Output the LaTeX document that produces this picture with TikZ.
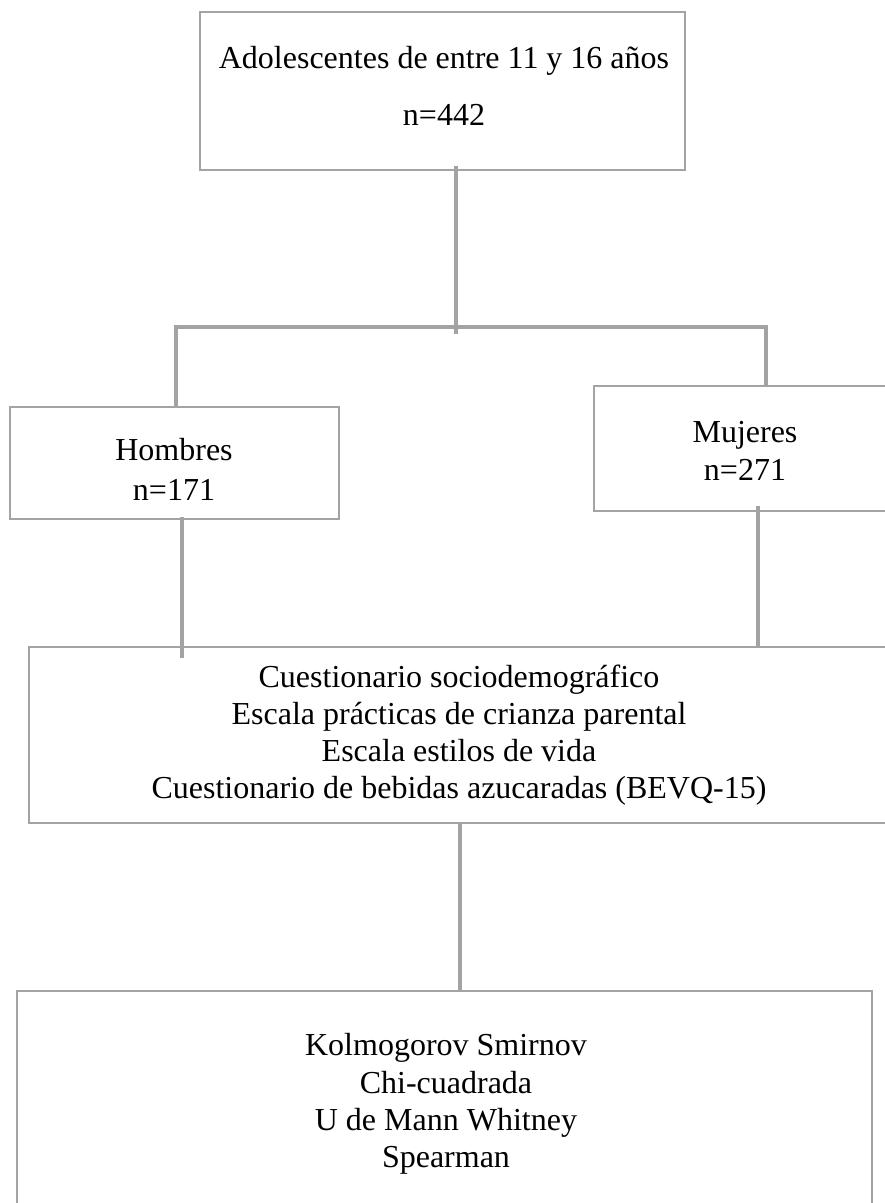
\documentclass[tikz,border=0pt]{standalone}
\usepackage{fontspec}
\setmainfont{Liberation Serif}
\definecolor{linegray}{HTML}{A3A3A3}
\begin{document}
\begin{tikzpicture}[x=0.75pt,y=-0.75pt,
  box/.style={draw=linegray, line width=1.8pt, inner sep=0pt, outer sep=0pt, fill=none},
  conn/.style={draw=linegray, line width=2.5pt},
  txt/.style={align=center, inner sep=0pt, text=black}]
\fill[white] (0,0) rectangle (885,1203);
\clip (0,0) rectangle (885,1203);
% boxes
\node[box, minimum width=363.75pt, minimum height=118.5pt] (top) at (442.5,91) {};
\node[box, minimum width=246.75pt, minimum height=84pt] (hom) at (174.5,463) {};
\node[box, minimum width=226.5pt, minimum height=93.75pt] (muj) at (745,448.5) {};
\node[box, minimum width=643.5pt, minimum height=132pt] (mid) at (458,735) {};
\node[box, minimum width=641.25pt, minimum height=168pt] (bot) at (444.5,1103) {};
% texts
\node[txt, font=\fontsize{24pt}{42.75pt}\selectfont] (ttop) at (444,86) {Adolescentes de entre 11 y 16 años\\n=442};
\node[txt, font=\fontsize{24pt}{30pt}\selectfont] (thom) at (174,469) {Hombres\\n=171};
\node[txt, font=\fontsize{24pt}{28.5pt}\selectfont] (tmuj) at (745,451) {Mujeres\\n=271};
\node[txt, font=\fontsize{24pt}{27.75pt}\selectfont] (tmid) at (459,735) {Cuestionario sociodemográfico\\Escala prácticas de crianza parental\\Escala estilos de vida\\Cuestionario de bebidas azucaradas (BEVQ-15)};
\node[txt, font=\fontsize{24pt}{28pt}\selectfont] (tbot) at (446,1104) {Kolmogorov Smirnov\\Chi-cuadrada\\U de Mann Whitney\\Spearman};
% connectors
\coordinate (jt) at (456,334);
\coordinate (hl) at (176,327);
\coordinate (hr) at (766,327);
\coordinate (ll) at (182,658);
\coordinate (rl) at (758,647);
\coordinate (ml) at (460,991);
\draw[conn] ([yshift=3pt]top.south -| jt) -- (jt);
\draw[conn] (hom.north -| hl) -- (hl) -- (hr) -- (muj.north -| hr);
\draw[conn] ([yshift=1.5pt]hom.south -| ll) -- (ll);
\draw[conn] ([yshift=4pt]muj.south -| rl) -- (rl);
\draw[conn] (mid.south -| ml) -- (bot.north -| ml);
\end{tikzpicture}
\end{document}
